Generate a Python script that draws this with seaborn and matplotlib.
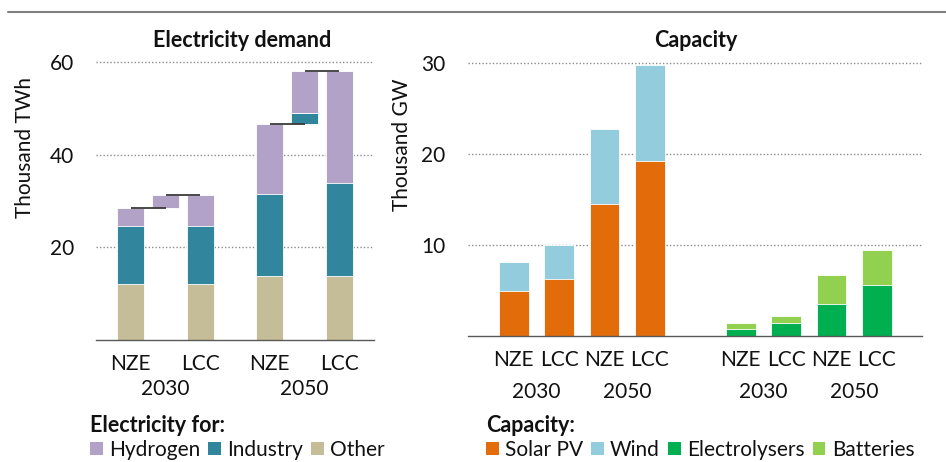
import matplotlib
matplotlib.use("Agg")
import matplotlib.pyplot as plt
import matplotlib.patches as mpatches
from matplotlib.lines import Line2D
import numpy as np
import pandas as pd
import seaborn as sns

# Electricity demand (thousand TWh) by end use
demand_scenarios = ["NZE", "LCC", "NZE", "LCC"]
demand_years = ["2030", "2030", "2050", "2050"]
demand_other = [12.1, 12.1, 13.8, 13.8]
demand_industry = [12.5, 12.5, 17.8, 20.1]
demand_hydrogen = [3.9, 6.7, 15.0, 24.1]

# Installed capacity (thousand GW)
cap_scenarios = ["NZE", "LCC", "NZE", "LCC"]
cap_years = ["2030", "2030", "2050", "2050"]
solar_pv = [4.95, 6.23, 14.47, 19.23]
wind = [3.15, 3.74, 8.23, 10.55]
electrolysers = [0.77, 1.42, 3.52, 5.57]
batteries = [0.63, 0.78, 3.11, 3.81]

demand_ticks = [20, 40, 60]
capacity_ticks = [10, 20, 30]

palette = {
    "Hydrogen": "#B3A2C8",
    "Industry": "#31859C",
    "Other": "#C4BD97",
    "Solar PV": "#E36C0A",
    "Wind": "#93CDDD",
    "Electrolysers": "#00B050",
    "Batteries": "#92D050",
}

sns.set_style("white")
plt.rcParams["font.family"] = ["Lato", "DejaVu Sans"]
FS = 15
plt.rcParams["font.size"] = FS
TEXT = "#111111"
GRID = "#8c8c8c"
SPINE = "#595959"

fig = plt.figure(figsize=(9.46, 4.62), dpi=100)
W, H = 946, 462


def axes_from_px(x0, x1, y_top, y_bottom):
    return fig.add_axes([x0 / W, 1 - y_bottom / H, (x1 - x0) / W, (y_bottom - y_top) / H])


def stacked_bars(ax, slots, order, layers, width):
    """Stack the given (name, values) layers by overlaying cumulative totals."""
    cum = np.zeros(len(slots))
    tops = []
    for name, vals in layers:
        cum = cum + np.asarray(vals, dtype=float)
        tops.append((name, cum.copy()))
    for name, top in reversed(tops):
        sns.barplot(x=slots, y=top, order=order, color=palette[name], width=width,
                    errorbar=None, saturation=1, edgecolor="white", linewidth=0.6,
                    ax=ax, zorder=2)


def style_axis(ax, ticks, ylim, pad):
    ax.set_ylim(*ylim)
    ax.set_yticks(ticks)
    ax.set_yticklabels([str(t) for t in ticks], color=TEXT)
    ax.tick_params(axis="y", length=0, pad=pad, labelsize=FS)
    ax.grid(axis="y", color=GRID, linestyle=(0, (1, 1.5)), linewidth=1.0)
    ax.grid(axis="x", visible=False)
    ax.set_axisbelow(True)
    for side in ("left", "right", "top"):
        ax.spines[side].set_visible(False)
    ax.spines["bottom"].set_color(SPINE)
    ax.spines["bottom"].set_linewidth(1.0)


def x_labels(ax, positions, labels, years_pos, years, xlim, bounds, off1, off2):
    ax.set_xlim(*xlim)
    ax.set_xticks(positions)
    ax.set_xticklabels([])
    ax.tick_params(axis="x", which="major", length=0)
    ax.set_xticks(bounds, minor=True)
    ax.tick_params(axis="x", which="minor", length=5, width=1.0, color=SPINE, direction="out")
    tr = ax.get_xaxis_transform()
    for p, lab in zip(positions, labels):
        ax.annotate(lab, xy=(p, 0), xycoords=tr, xytext=(0, -off1), textcoords="offset points",
                    ha="center", va="baseline", fontsize=FS, color=TEXT, annotation_clip=False)
    for p, lab in zip(years_pos, years):
        ax.annotate(lab, xy=(p, 0), xycoords=tr, xytext=(0, -off2), textcoords="offset points",
                    ha="center", va="baseline", fontsize=FS, color=TEXT, annotation_clip=False)


# ---------------- Electricity demand ----------------
ax1 = axes_from_px(96, 374, 57.4, 340)
d_slots = [f"{s} {y}" for s, y in zip(demand_scenarios, demand_years)]
d_order = ["NZE 2030", "chg 2030", "LCC 2030", "gap", "NZE 2050", "chg 2050", "LCC 2050"]
bar_w1 = 0.77
layers = [("Other", demand_other), ("Industry", demand_industry), ("Hydrogen", demand_hydrogen)]
stacked_bars(ax1, d_slots, d_order, layers, bar_w1)

# Waterfall bridging NZE -> LCC for each year
for yr in ["2030", "2050"]:
    i_n = d_slots.index(f"NZE {yr}")
    i_l = d_slots.index(f"LCC {yr}")
    p_n, p_c, p_l = d_order.index(f"NZE {yr}"), d_order.index(f"chg {yr}"), d_order.index(f"LCC {yr}")
    tot_n = sum(v[i_n] for _, v in layers)
    tot_l = sum(v[i_l] for _, v in layers)
    base = tot_n
    for name, vals in layers:
        delta = vals[i_l] - vals[i_n]
        if abs(delta) > 1e-9:
            ax1.bar(p_c, delta, bottom=base, width=bar_w1, color=palette[name],
                    edgecolor="white", linewidth=0.6, zorder=2)
            base += delta
    ax1.plot([p_n, p_c], [tot_n, tot_n], color="#3a3a3a", lw=1.3, zorder=3, solid_capstyle="butt")
    ax1.plot([p_c, p_l], [tot_l, tot_l], color="#3a3a3a", lw=1.3, zorder=3, solid_capstyle="butt")

style_axis(ax1, demand_ticks, (0, 61), 15.8)
x_labels(ax1, [0, 2, 4, 6], demand_scenarios, [1, 5], ["2030", "2050"],
         (-1, 7), [-1, 3, 7], 21.6, 39.6)
ax1.set_xlabel("")
ax1.set_ylabel("Thousand TWh", fontsize=FS, color=TEXT)
ax1.yaxis.set_label_coords(-0.219, 0.68)

# ---------------- Capacity ----------------
ax2 = axes_from_px(468.3, 922.3, 58.1, 335.7)
c_keys = [f"{s} {y}" for s, y in zip(cap_scenarios, cap_years)]
c_order = [f"pw {k}" for k in c_keys] + ["gap"] + [f"fx {k}" for k in c_keys]
bar_w2 = 0.66
stacked_bars(ax2, [f"pw {k}" for k in c_keys], c_order,
             [("Solar PV", solar_pv), ("Wind", wind)], bar_w2)
stacked_bars(ax2, [f"fx {k}" for k in c_keys], c_order,
             [("Electrolysers", electrolysers), ("Batteries", batteries)], bar_w2)

style_axis(ax2, capacity_ticks, (0, 30.5), 16.3)
x_labels(ax2, [0, 1, 2, 3, 5, 6, 7, 8], cap_scenarios + cap_scenarios,
         [0.5, 2.5, 5.5, 7.5], ["2030", "2050", "2030", "2050"],
         (-1, 9), [-1, 4, 9], 21.8, 45.1)
ax2.set_xlabel("")
ax2.set_ylabel("Thousand GW", fontsize=FS, color=TEXT)
ax2.yaxis.set_label_coords(-0.1247, 0.687)

# ---------------- Titles, rule and legends ----------------
fig.text(242 / W, 1 - 40.5 / H, "Electricity demand", ha="center", va="center",
         fontsize=15.5, fontweight="bold", color=TEXT)
fig.text(695.5 / W, 1 - 40.5 / H, "Capacity", ha="center", va="center",
         fontsize=15.5, fontweight="bold", color=TEXT)
fig.add_artist(Line2D([8 / W, 1.0], [1 - 12 / H, 1 - 12 / H], transform=fig.transFigure,
                      color="#808080", lw=1.5))


def make_legend(names, title, x_px, y_px):
    handles = [mpatches.Patch(facecolor=palette[n], edgecolor="none") for n in names]
    leg = fig.legend(handles, names, title=title, ncol=len(names), loc="upper left",
                     bbox_to_anchor=(x_px / W, 1 - y_px / H), frameon=False,
                     fontsize=FS, title_fontproperties={"weight": "bold", "size": 15.5},
                     handlelength=0.6, handleheight=0.6, handletextpad=0.3,
                     columnspacing=0.4, borderpad=0, borderaxespad=0, alignment="left",
                     labelspacing=0.2)
    for t in leg.get_texts():
        t.set_color(TEXT)
    leg.get_title().set_color(TEXT)
    return leg


make_legend(["Hydrogen", "Industry", "Other"], "Electricity for:", 90, 415)
make_legend(["Solar PV", "Wind", "Electrolysers", "Batteries"], "Capacity:", 486, 415)

fig.savefig("out.png", dpi=100)
